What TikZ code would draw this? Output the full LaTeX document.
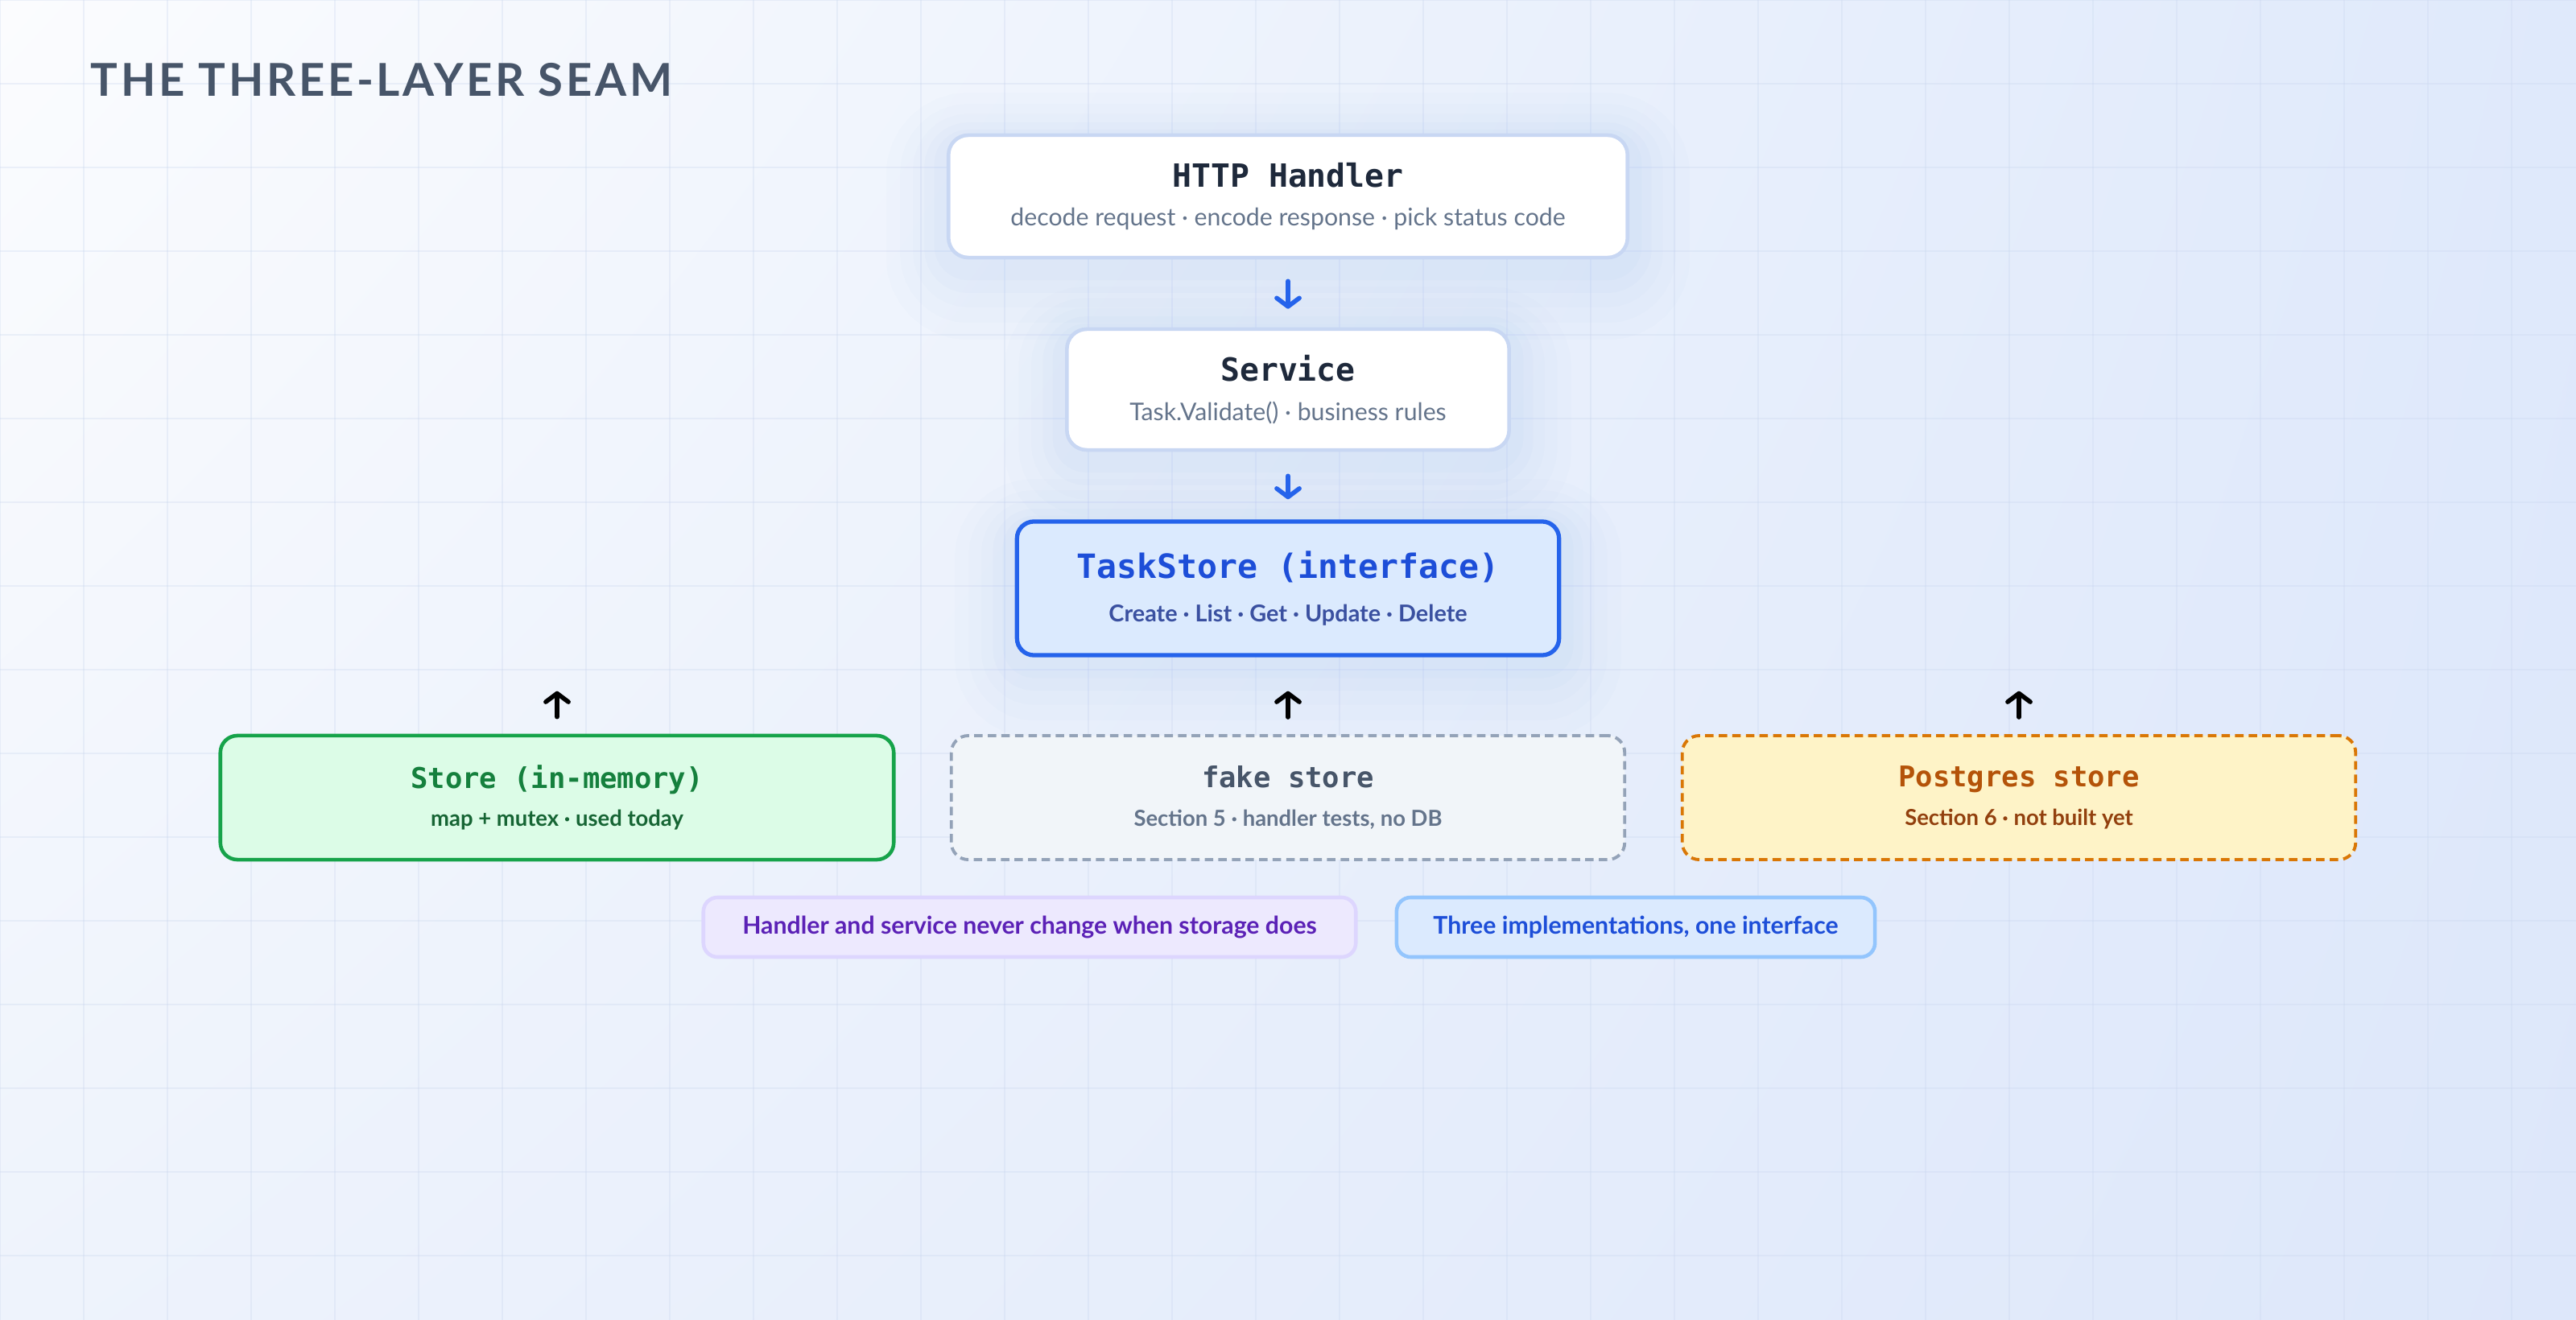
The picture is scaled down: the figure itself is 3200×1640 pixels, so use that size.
\documentclass[tikz,border=0pt]{standalone}
\usepackage{fontspec}
\setmainfont{Lato}
\newfontfamily\codefont{DejaVu Sans Mono}
\newfontfamily\headfont[LetterSpace=6.5]{Lato}
\usetikzlibrary{arrows.meta, positioning, shadings}
\definecolor{BgTL}{HTML}{FBFCFE}
\definecolor{BgTR}{HTML}{DFE9FB}
\definecolor{BgBL}{HTML}{EEF3FC}
\definecolor{BgBR}{HTML}{DDE7FA}
\definecolor{GridLine}{HTML}{C9D6EE}
\definecolor{Slate600}{HTML}{475569}
\definecolor{Slate500}{HTML}{64748B}
\definecolor{Ink}{HTML}{1E293B}
\definecolor{EdgeBlue}{HTML}{C8D7F3}
\definecolor{GlowBlue}{HTML}{3B82F6}
\definecolor{Blue600}{HTML}{2563EB}
\definecolor{Blue700}{HTML}{1D4ED8}
\definecolor{TaskFill}{HTML}{DBEAFE}
\definecolor{TaskSub}{HTML}{3A50A0}
\definecolor{MemFill}{HTML}{DCFCE7}
\definecolor{MemEdge}{HTML}{16A34A}
\definecolor{MemText}{HTML}{15803D}
\definecolor{MemSub}{HTML}{166534}
\definecolor{FakeFill}{HTML}{F1F5F9}
\definecolor{FakeEdge}{HTML}{94A3B8}
\definecolor{PgFill}{HTML}{FEF3C7}
\definecolor{PgEdge}{HTML}{D97706}
\definecolor{PgText}{HTML}{B45309}
\definecolor{PgSub}{HTML}{92400E}
\definecolor{VioFill}{HTML}{EDE9FE}
\definecolor{VioEdge}{HTML}{DDD6FE}
\definecolor{VioText}{HTML}{5B21B6}
\definecolor{NoteEdge}{HTML}{93C5FD}

\newcommand\layername[3]{{\color{#1}\codefont\bfseries\fontsize{#2}{12.5}\selectfont #3}}

\tikzset{
  card/.style={rounded corners=7pt, line width=1.3pt, align=center,
               inner sep=0pt, text=Slate500, font=\fontsize{8.6}{12.5}\selectfont},
  implbox/.style={card, rounded corners=6pt, minimum width=8.36cm,
                  minimum height=1.54cm, font=\bfseries\fontsize{7.8}{12.5}\selectfont},
  glow/.style={preaction={draw=GlowBlue, draw opacity=.012, line width=44pt,
                          transform canvas={yshift=-7pt}},
               preaction={draw=GlowBlue, draw opacity=.014, line width=34pt,
                          transform canvas={yshift=-6pt}},
               preaction={draw=GlowBlue, draw opacity=.016, line width=25pt,
                          transform canvas={yshift=-5pt}},
               preaction={draw=GlowBlue, draw opacity=.018, line width=17pt,
                          transform canvas={yshift=-4pt}},
               preaction={draw=GlowBlue, draw opacity=.02, line width=10pt,
                          transform canvas={yshift=-3pt}}},
  notebox/.style={rounded corners=5pt, line width=1.3pt, inner sep=0pt,
                  minimum height=0.74cm, font=\bfseries\fontsize{8.6}{10}\selectfont},
  flowdown/.style={-{Straight Barb[length=3pt, width=8pt, round]}, line width=1.6pt,
                   line cap=round, Blue600},
  flowup/.style={flowdown, black},
  gridline/.style={GridLine, line width=0.6pt, opacity=.3}
}

\begin{document}
\begin{tikzpicture}[x=0.01cm, y=-0.01cm]
  \useasboundingbox (0,0) rectangle (3200,1640);

  % Backdrop and grid
  \shade[upper left=BgTL, upper right=BgTR, lower left=BgBL, lower right=BgBR]
    (0,0) rectangle (3200,1640);
  \foreach \gx in {0,104,...,3200}
    \draw[gridline] (\gx,0) -- (\gx,1640);
  \foreach \gy in {0,104,...,1640}
    \draw[gridline] (0,\gy) -- (3200,\gy);

  % Title
  \node[anchor=base west, inner sep=0pt, text=Slate600,
        font=\headfont\bfseries\fontsize{16}{18}\selectfont] (title) at (112,120)
    {THE THREE-LAYER SEAM};

  % Layers
  \node[card, glow, fill=white, draw=EdgeBlue, minimum width=8.43cm,
        minimum height=1.52cm] (http) at (1600,244)
    {\layername{Ink}{11.3}{HTTP Handler}\\[1.2pt]decode request · encode response · pick status code};

  \node[card, glow, fill=white, draw=EdgeBlue, minimum width=5.49cm,
        minimum height=1.50cm] (svc) at (1600,484)
    {\layername{Ink}{11.3}{Service}\\[1.2pt]Task.Validate() · business rules};

  \node[card, glow, fill=TaskFill, draw=Blue600, line width=1.5pt, rounded corners=6pt,
        minimum width=6.73cm, minimum height=1.66cm, text=TaskSub,
        font=\bfseries\fontsize{8.2}{12.5}\selectfont] (store) at (1600,731)
    {\layername{Blue700}{11.8}{TaskStore (interface)}\\[2.6pt]Create · List · Get · Update · Delete};

  % Implementations
  \node[implbox, fill=MemFill, draw=MemEdge, text=MemSub] (mem) at (692,991)
    {\layername{MemText}{10.1}{Store (in-memory)}\\[1pt]map + mutex · used today};

  \node[implbox, fill=FakeFill, draw=FakeEdge, line width=1.1pt,
        dash pattern=on 3pt off 1.8pt] (fake) at (1600,991)
    {\layername{Slate600}{10.1}{fake store}\\[1pt]Section 5 · handler tests, no DB};

  \node[implbox, fill=PgFill, draw=PgEdge, text=PgSub, line width=1.1pt,
        dash pattern=on 3pt off 1.8pt] (pg) at (2508,991)
    {\layername{PgText}{10.1}{Postgres store}\\[1pt]Section 6 · not built yet};

  % Arrows
  \draw[flowdown, shorten <=0.27cm, shorten >=0.23cm] (http.south) -- (svc.north);
  \draw[flowdown, shorten <=0.30cm, shorten >=0.25cm] (svc.south) -- (store.north);
  \draw[flowup, shorten <=0.21cm, shorten >=0.42cm] (mem.north) -- (mem.north |- store.south);
  \draw[flowup, shorten <=0.21cm, shorten >=0.42cm] (fake.north) -- (store.south);
  \draw[flowup, shorten <=0.21cm, shorten >=0.42cm] (pg.north) -- (pg.north |- store.south);

  % Notes
  \node[notebox, fill=VioFill, draw=VioEdge, text=VioText, minimum width=8.10cm]
    (seam) at (1279,1152) {Handler and service never change when storage does};
  \node[notebox, fill=TaskFill, draw=NoteEdge, text=Blue700, minimum width=5.94cm]
    (impls) at (2032,1152) {Three implementations, one interface};
\end{tikzpicture}
\end{document}
